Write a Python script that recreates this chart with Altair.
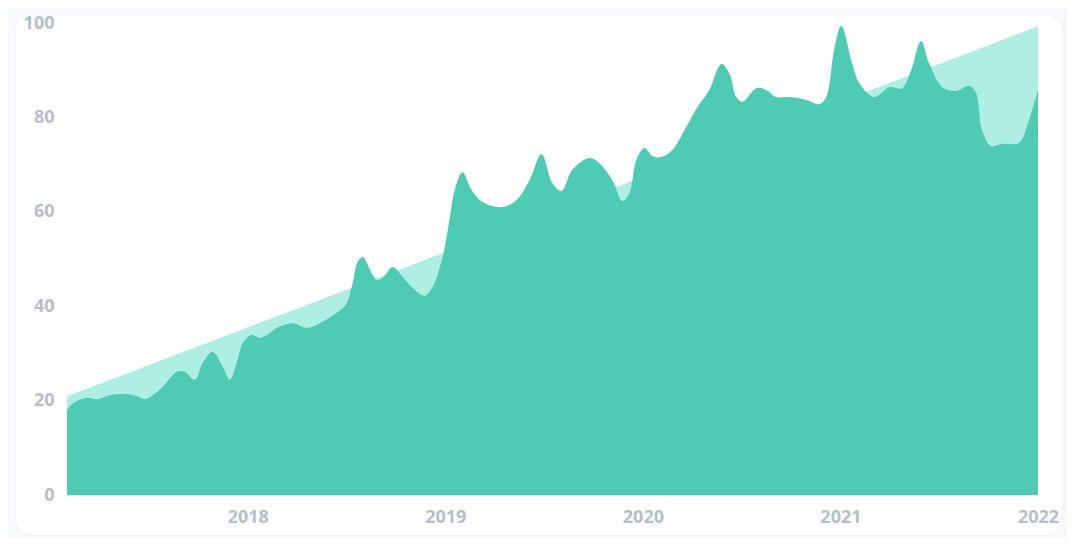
import altair as alt
import pandas as pd

# Smoothed series (decimal year, value)
years = [2017.085, 2017.110, 2017.135, 2017.186, 2017.241, 2017.302, 2017.368, 2017.439,
         2017.479, 2017.520, 2017.570, 2017.641, 2017.681, 2017.732, 2017.772, 2017.823,
         2017.874, 2017.909, 2017.944, 2017.975, 2018.020, 2018.061, 2018.096, 2018.147,
         2018.228, 2018.298, 2018.364, 2018.450, 2018.501, 2018.531, 2018.556, 2018.582,
         2018.627, 2018.652, 2018.683, 2018.733, 2018.784, 2018.834, 2018.895, 2018.936,
         2018.986, 2019.021, 2019.047, 2019.087, 2019.133, 2019.188, 2019.290, 2019.360,
         2019.426, 2019.487, 2019.542, 2019.588, 2019.643, 2019.729, 2019.780, 2019.846,
         2019.896, 2019.932, 2019.967, 2020.008, 2020.048, 2020.094, 2020.149, 2020.220,
         2020.276, 2020.336, 2020.397, 2020.437, 2020.473, 2020.503, 2020.574, 2020.625,
         2020.675, 2020.741, 2020.827, 2020.893, 2020.928, 2020.968, 2021.004, 2021.059,
         2021.095, 2021.171, 2021.247, 2021.312, 2021.358, 2021.408, 2021.449, 2021.515,
         2021.585, 2021.651, 2021.686, 2021.717, 2021.762, 2021.818, 2021.904, 2021.954,
         2022.000]
values = [18.0, 19.3, 19.9, 20.6, 20.3, 21.2, 21.4, 21.0,
          20.3, 21.2, 22.9, 26.1, 26.1, 24.4, 28.0, 30.3,
          27.1, 24.4, 28.0, 32.2, 33.9, 33.3, 33.9, 35.4,
          36.4, 35.4, 36.4, 38.6, 40.7, 44.9, 49.4, 50.4,
          47.0, 45.6, 46.0, 48.3, 46.2, 43.9, 42.2, 44.1,
          50.4, 58.3, 64.6, 68.4, 64.6, 62.1, 61.0, 62.5,
          66.7, 72.2, 66.1, 64.4, 68.9, 71.4, 70.3, 66.7,
          62.3, 64.0, 71.0, 73.5, 71.8, 71.6, 73.1, 78.0,
          82.2, 85.8, 91.3, 89.4, 84.3, 83.3, 86.2, 85.8,
          84.3, 84.3, 83.7, 82.8, 84.3, 94.3, 99.4, 91.5,
          87.3, 84.3, 86.4, 86.2, 90.0, 96.2, 91.5, 86.4,
          85.6, 86.7, 85.2, 77.3, 73.9, 74.4, 74.6, 79.4,
          85.8]

# Linear trend (light area)
trend_years = [2017.085, 2022.0]
trend_values = [20.9, 99.3]

x_ticks = [2018, 2019, 2020, 2021, 2022]
y_ticks = [0, 20, 40, 60, 80, 100]

df = pd.DataFrame({"t": years, "v": values})
df_trend = pd.DataFrame({"t": trend_years, "v": trend_values})

label_font = "Open Sans"
label_color = "#B5BFCC"

x_enc = alt.X(
    "t:Q",
    scale=alt.Scale(domain=[2017.085, 2022.0], nice=False, zero=False),
    axis=alt.Axis(values=x_ticks, format="d", title=None, grid=False, domain=False,
                  ticks=False, labelPadding=13, labelFlush=False, labelOverlap=False,
                  labelFont=label_font, labelFontSize=18, labelFontWeight="bold",
                  labelColor=label_color, zindex=2),
)
y_enc = alt.Y(
    "v:Q",
    scale=alt.Scale(domain=[0, 100], nice=False),
    axis=alt.Axis(values=y_ticks, title=None, grid=False, domain=False, ticks=False,
                  labelPadding=13, labelFont=label_font, labelFontSize=18,
                  labelFontWeight="bold", labelColor=label_color, zindex=2),
)

card = alt.Chart(alt.Data(values=[{}])).mark_rect(
    cornerRadius=16, color="white", stroke="#EFF1F3", strokeWidth=1
).encode(x=alt.value(-52), x2=alt.value(996), y=alt.value(-8), y2=alt.value(512))

trend = alt.Chart(df_trend).mark_area(color="#AEEEE3", interpolate="linear").encode(
    x=x_enc, y=y_enc
)

main = alt.Chart(df).mark_area(color="#4FCBB4", interpolate="catmull-rom").encode(
    x="t:Q", y="v:Q"
)

chart = (
    alt.layer(card, trend, main)
    .properties(
        width=971,
        height=472,
        autosize=alt.AutoSizeParams(type="none"),
        padding={"left": 59, "top": 15, "right": 29, "bottom": 43},
        background="#F8F9FA",
    )
    .configure_view(stroke=None)
)

chart.save("out.html", embed_options={"renderer": "svg", "actions": False})
